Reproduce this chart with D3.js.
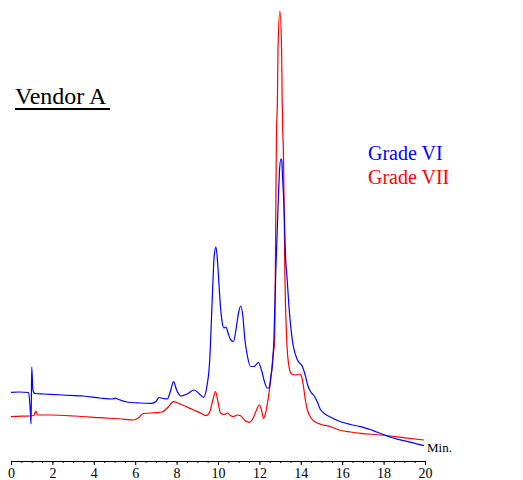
<!DOCTYPE html>
<html>
<head>
<meta charset="utf-8">
<script src="https://cdn.jsdelivr.net/npm/d3@7/dist/d3.min.js"></script>
<style>
  body { margin: 0; background: #fff; }
  svg { display: block; }
</style>
</head>
<body>
<div id="chart"></div>
<script>
// chromatogram traces, time in minutes, signal in arbitrary units
var blueTime = [0, 0.4, 0.85, 0.93, 0.97, 1.0, 1.06, 1.15, 1.6, 2.5, 3.5, 4.3, 4.9, 5.05, 5.2, 5.6, 6.2, 6.8, 7.0, 7.15, 7.35, 7.55, 7.72, 7.85, 8.0, 8.2, 8.5, 8.85, 9.1, 9.3, 9.45, 9.6, 9.72, 9.82, 9.9, 9.98, 10.05, 10.12, 10.2, 10.28, 10.38, 10.5, 10.62, 10.75, 10.88, 11.0, 11.1, 11.2, 11.3, 11.42, 11.57, 11.75, 11.95, 12.1, 12.25, 12.38, 12.47, 12.55, 12.63, 12.7, 12.79, 12.9, 12.98, 13.04, 13.08, 13.12, 13.19, 13.27, 13.32, 13.43, 13.59, 13.84, 14.08, 14.2, 14.33, 14.48, 14.62, 14.8, 14.96, 15.45, 15.93, 16.4, 16.9, 17.3, 17.63, 18.0, 18.35, 18.8, 19.32, 19.95];
var blueSignal = [47.7, 48, 47.5, 30, 16, 73, 50, 46.5, 46, 45, 44, 42, 41, 41.8, 40.5, 38, 37, 36.7, 38.5, 42.5, 41.5, 41, 50, 58.3, 50, 44, 46, 50, 46, 42.7, 52, 80, 140, 185, 193, 178, 155, 133, 118, 112, 113, 106, 100, 98.5, 112, 128, 134, 124, 100, 84, 73.5, 73.5, 77.5, 70, 58, 52, 52, 63, 75, 100, 167, 233, 272, 281, 280, 262, 233, 180, 167, 133, 100, 80, 73.3, 66, 55, 48, 45, 38, 30, 22.7, 18.3, 15.5, 13.3, 10.7, 8.3, 5.5, 2.7, 0.2, -2.3, -5.7];

var redTime = [0, 0.5, 0.95, 1.1, 1.2, 1.28, 1.9, 3.1, 4.3, 5.5, 5.9, 6.15, 6.4, 7.0, 7.3, 7.6, 7.85, 8.05, 8.2, 8.82, 9.2, 9.42, 9.6, 9.75, 9.88, 10.0, 10.12, 10.3, 10.45, 10.6, 10.75, 10.92, 11.09, 11.3, 11.5, 11.7, 11.82, 12.0, 12.1, 12.2, 12.3, 12.36, 12.45, 12.58, 12.66, 12.74, 12.77, 12.82, 12.87, 12.9, 12.99, 13.07, 13.1, 13.13, 13.16, 13.23, 13.32, 13.43, 13.55, 13.75, 13.95, 14.03, 14.12, 14.22, 14.32, 14.5, 14.7, 14.96, 15.45, 15.93, 16.4, 16.9, 17.87, 18.84, 19.95];
var redSignal = [23.3, 23.8, 24, 24.5, 29, 25, 25, 24, 22.3, 20.7, 20, 22, 26.5, 27.3, 28, 33, 38.3, 37, 35.7, 30, 26.5, 24.3, 28, 40, 48.3, 38, 27, 25.5, 27, 24.5, 23.3, 25, 24.3, 19.5, 17.7, 22, 28, 35, 30, 21.7, 27, 33.3, 45, 67, 85, 100, 167, 300, 340, 393, 429, 393, 340, 307, 290, 167, 100, 73.3, 66, 65, 66, 64, 55, 40, 30, 21.7, 18, 15.7, 13.3, 9.5, 8, 6.7, 5, 2.7, 0];

var majorTicks = [0, 2, 4, 6, 8, 10, 12, 14, 16, 18, 20];
var minorTicks = d3.range(0, 20.01, 0.5);
var seriesNames = ["Grade VI", "Grade VII"];
var seriesColors = ["#0000ff", "#ff0000"];

var serif = "'Liberation Serif', 'Times New Roman', serif";
var width = 523, height = 480;
var svg = d3.select("#chart").append("svg")
    .attr("width", width)
    .attr("height", height);

var x = d3.scaleLinear().domain([0, 20]).range([11, 425]);
var y = d3.scaleLinear().domain([0, 430]).range([440, 10]);

var line = d3.line()
    .x(function(d) { return x(d[0]); })
    .y(function(d) { return y(d[1]); })
    .curve(d3.curveMonotoneX);

var redData = d3.zip(redTime, redSignal);
var blueData = d3.zip(blueTime, blueSignal);

svg.append("path")
    .datum(redData)
    .attr("fill", "none")
    .attr("stroke", seriesColors[1])
    .attr("stroke-width", 1.2)
    .attr("d", line);

svg.append("path")
    .datum(blueData)
    .attr("fill", "none")
    .attr("stroke", seriesColors[0])
    .attr("stroke-width", 1.2)
    .attr("d", line);

// x axis: minor ticks every half minute, labelled major ticks every 2
var axisY = 461;
svg.append("g")
    .attr("transform", "translate(0," + axisY + ")")
    .call(d3.axisBottom(x).tickValues(minorTicks).tickSize(2).tickSizeOuter(0).tickFormat(""))
    .call(function(g) {
      g.select(".domain").attr("stroke", "#000").attr("stroke-width", 1.2);
      g.selectAll(".tick line").attr("stroke", "#000");
    });

svg.append("g")
    .attr("transform", "translate(0," + axisY + ")")
    .call(d3.axisBottom(x).tickValues(majorTicks).tickSize(4).tickPadding(3.5).tickSizeOuter(0))
    .call(function(g) {
      g.attr("font-family", serif).attr("font-size", 14);
      g.select(".domain").remove();
      g.selectAll(".tick line").attr("stroke", "#000");
      g.selectAll(".tick text")
        .attr("fill", "#000")
        .style("font-family", serif)
        .style("font-size", "14px");
    });

svg.append("text")
    .attr("x", 427)
    .attr("y", 452)
    .style("font-family", serif)
    .style("font-size", "13px")
    .attr("fill", "#000")
    .text("Min.");

// title
svg.append("text")
    .attr("x", 15)
    .attr("y", 104)
    .style("font-family", serif)
    .style("font-size", "24px")
    .attr("fill", "#000")
    .text("Vendor A");
svg.append("line")
    .attr("x1", 15).attr("x2", 110)
    .attr("y1", 109).attr("y2", 109)
    .attr("stroke", "#000")
    .attr("stroke-width", 2);

// legend
svg.selectAll(".legend")
    .data(seriesNames)
    .enter()
    .append("text")
    .attr("class", "legend")
    .attr("x", 368)
    .attr("y", function(d, i) { return 160 + i * 24; })
    .style("font-family", serif)
    .style("font-size", "20px")
    .attr("fill", function(d, i) { return seriesColors[i]; })
    .text(function(d) { return d; });
</script>
</body>
</html>
